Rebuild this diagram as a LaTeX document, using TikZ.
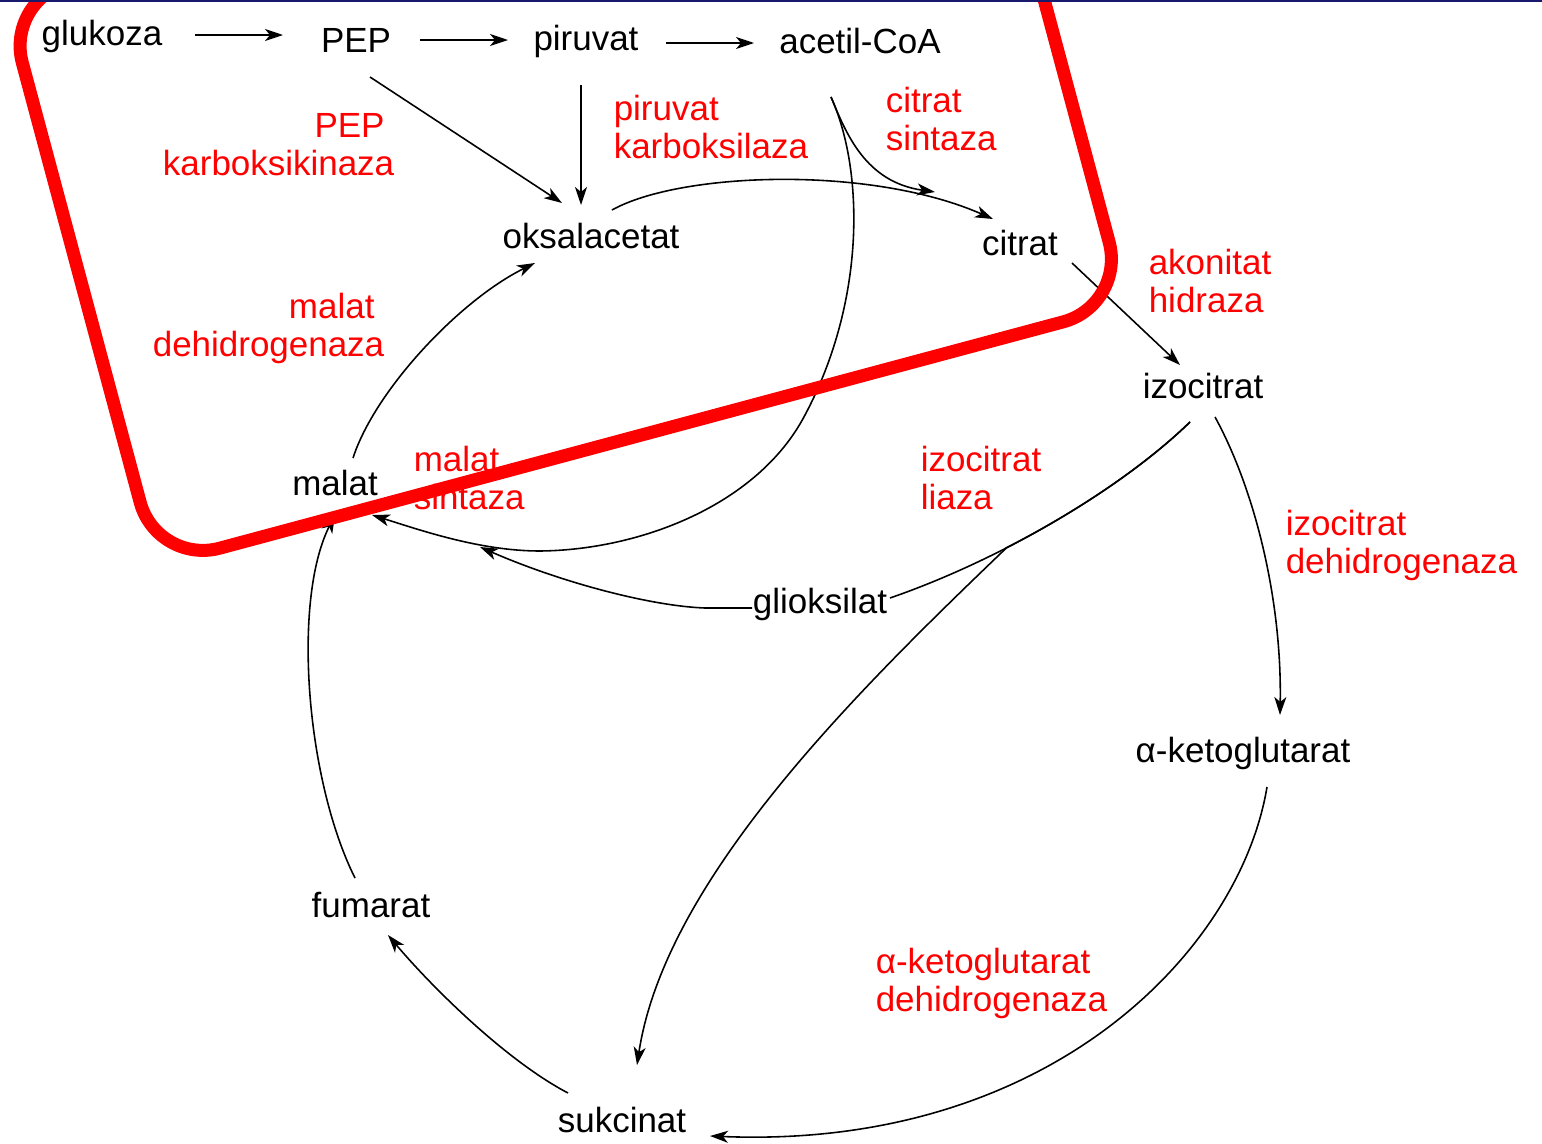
\documentclass[tikz,border=0pt]{standalone}
\usepackage{fontspec}
\setmainfont{Liberation Sans}
\usetikzlibrary{arrows.meta,calc}
\definecolor{navyline}{RGB}{25,25,110}
\definecolor{enzred}{RGB}{255,0,0}
\newcommand\twol[2]{\begin{tabular}[t]{@{}l@{}}#1\\#2\end{tabular}}
\newcommand\twor[2]{\begin{tabular}[t]{@{}r@{}}#1\\#2\end{tabular}}
\begin{document}
\begin{tikzpicture}[x=0.02cm,y=-0.02cm, line width=0.9pt,
  every node/.style={inner sep=0pt, font=\fontsize{19.9}{22}\selectfont},
  met/.style={anchor=base, text=black},
  enzl/.style={anchor=base west, text=enzred},
  enzr/.style={anchor=base east, text=enzred},
  arr/.style={-{Stealth[length=0.36cm,width=0.24cm,inset=0.1cm]}}]
\useasboundingbox (0,0) rectangle (1542,1143);
\clip (0,0) rectangle (1542,1143);
\fill[white] (0,0) rectangle (1542,1143);
% metabolites
\node[met] (glukoza) at (102,45) {glukoza};
\node[met] (PEP) at (356,52) {PEP};
\node[met] (piruvat) at (586,50) {piruvat};
\node[met] (acetil) at (860,53) {acetil-CoA};
\node[met] (oksal) at (591,248) {oksalacetat};
\node[met] (citrat) at (1020,255) {citrat};
\node[met] (izocitrat) at (1203,398) {izocitrat};
\node[met] (akg) at (1243,762) {α-ketoglutarat};
\node[met] (sukcinat) at (622,1132) {sukcinat};
\node[met] (fumarat) at (371,917) {fumarat};
\node[met] (malat) at (335,495) {malat};
\node[met] (glioksilat) at (820,613) {glioksilat};
% enzymes
\node[enzr] (e1) at (395,137) {\twor{PEP\kern.278em}{karboksikinaza}};
\node[enzl] (e2) at (613,120) {\twol{piruvat}{karboksilaza}};
\node[enzl] (e3) at (885,112) {\twol{citrat}{sintaza}};
\node[enzl] (e4) at (1148,274) {\twol{akonitat}{hidraza}};
\node[enzr] (e5) at (385,318) {\twor{malat\kern.278em}{dehidrogenaza}};
\node[enzl] (e6) at (413,471) {\twol{malat}{sintaza}};
\node[enzl] (e7) at (920,471) {\twol{izocitrat}{liaza}};
\node[enzl] (e8) at (1285,535) {\twol{izocitrat}{dehidrogenaza}};
\node[enzl] (e9) at (875,973) {\twol{α-ketoglutarat}{dehidrogenaza}};
% connectors
\draw[arr] ($(glukoza.base)+(93,-10)$) -- ($(PEP.base)+(-73,-17)$);
\draw[arr] ($(PEP.base)+(64,-12)$) -- ($(piruvat.base)+(-78,-10)$);
\draw[arr] ($(piruvat.base)+(80,-7)$) -- ($(acetil.base)+(-106,-10)$);
\draw[arr] ($(PEP.base)+(14,25)$) -- ($(oksal.base)+(-29,-45)$);
\draw[arr] ($(piruvat.base)+(-5,35)$) -- ($(oksal.base)+(-10,-43)$);
\draw[arr] ($(malat.base)+(18,-37)$) .. controls (375,390) and (460,300) .. ($(oksal.base)+(-56,15)$);
\draw[arr] ($(oksal.base)+(21,-38)$) .. controls (680,172) and (870,165) .. ($(citrat.base)+(-27,-36)$);
\draw[arr] ($(acetil.base)+(-29,44)$) .. controls (846,133) and (865,182) .. ($(citrat.base)+(-85,-63)$);
\draw[arr] ($(acetil.base)+(-29,44)$) .. controls (864,170) and (866,300) .. (805,415)
  .. controls (758,505) and (640,550) .. (540,551)
  .. controls (480,551) and (420,530) .. ($(malat.base)+(37,20)$);
\draw[arr] ($(glioksilat.base)+(-68,-5)$) -- ++(-47,0)
  .. controls (650,606) and (560,582) .. ($(malat.base)+(145,52)$);
\draw ($(izocitrat.base)+(-13,24)$) .. controls (1120,490) and (1000,560) .. ($(glioksilat.base)+(70,-15)$);
\draw[arr] ($(izocitrat.base)+(-13,24)$) .. controls (1144.5,466.2) and (1077.9,511.1) .. (1006.6,547.7)
  .. controls (856,692) and (665,880) .. ($(sukcinat.base)+(15,-67)$);
\draw[arr] ($(citrat.base)+(52,8)$) -- ($(izocitrat.base)+(-23,-33)$);
\draw[arr] ($(izocitrat.base)+(12,19)$) .. controls (1255,490) and (1282,600) .. ($(akg.base)+(37,-47)$);
\draw[arr] ($(akg.base)+(24,25)$) .. controls (1240,950) and (1050,1150) .. ($(sukcinat.base)+(88,4)$);
\draw[arr] ($(sukcinat.base)+(-54,-39)$) .. controls (505,1060) and (430,985) .. ($(fumarat.base)+(17,18)$);
\draw[arr] ($(fumarat.base)+(-16,-39)$) .. controls (306,780) and (292,600) .. ($(malat.base)+(0,20)$);
% red frame
\draw[enzred, line width=0.26cm, rounded corners=1.3cm]
  (641.5,435) -- (1126,305) -- (974.5,-260) -- (5.5,0) -- (157,565) -- cycle;
% top rule
\draw[navyline, line width=0.04cm] (0,1) -- (1542,1);
\end{tikzpicture}
\end{document}
